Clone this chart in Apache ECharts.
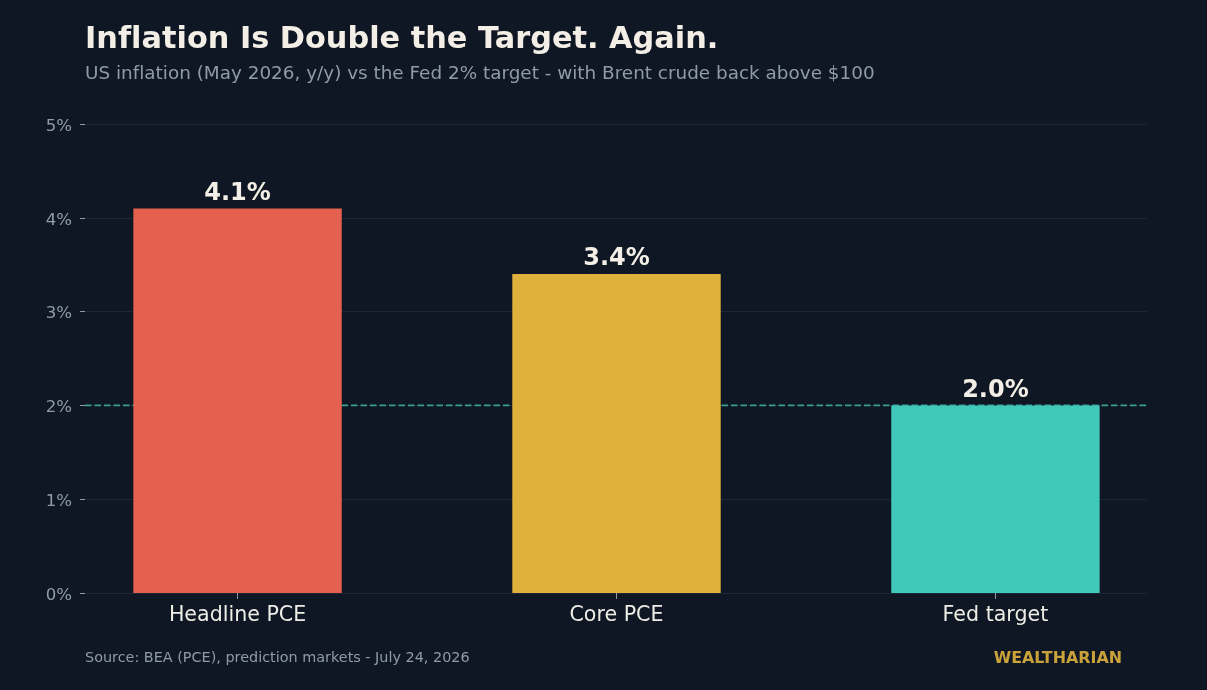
<!DOCTYPE html>
<html><head><meta charset="utf-8">
<script src="https://cdn.jsdelivr.net/npm/echarts@6/dist/echarts.min.js"></script>
<style>html,body{margin:0;padding:0;background:#0F1724;}#c{width:1207px;height:690px;}</style>
</head><body><div id="c"></div>
<script>
const categories = ['Headline PCE', 'Core PCE', 'Fed target'];
const values = [4.1, 3.4, 2.0];
const barColors = ['#E5604F', '#DFB13C', '#40C8B8'];
const yTicks = [0, 1, 2, 3, 4, 5];
const targetRate = 2.0;

// draw text without ligatures (matplotlib-like rendering)
(function () {
  const P = CanvasRenderingContext2D.prototype;
  const orig = P.fillText;
  P.fillText = function () {
    try { this.textRendering = 'optimizeSpeed'; } catch (e) {}
    return orig.apply(this, arguments);
  };
})();

const font = 'DejaVu Sans';
const chart = echarts.init(document.getElementById('c'), null, {renderer: 'canvas'});
chart.setOption({
  backgroundColor: '#0F1724',
  animation: false,
  title: [
    {text: 'Inflation Is Double the Target. Again.', left: 80, top: 20,
     textStyle: {color: '#F3EFE6', fontFamily: font, fontWeight: 'bold', fontSize: 30.35}},
    {text: 'US inflation (May 2026, y/y) vs the Fed 2% target - with Brent crude back above $100', left: 80, top: 60,
     textStyle: {color: '#8F9BAA', fontFamily: font, fontWeight: 'normal', fontSize: 18.4}},
    {text: 'Source: BEA (PCE), prediction markets - July 24, 2026', left: 80, top: 646,
     textStyle: {color: '#8F9BAA', fontFamily: font, fontWeight: 'normal', fontSize: 14.4}},
    {text: 'WEALTHARIAN', right: 80, top: 645.5,
     textStyle: {color: '#C9A23A', fontFamily: font, fontWeight: 'bold', fontSize: 15.9}}
  ],
  grid: [
    {left: 85, right: 60, top: 124, bottom: 97, containLabel: false},
    {left: 48.1, right: 22.1, top: 124, bottom: 97, containLabel: false}
  ],
  xAxis: [
    {gridIndex: 0, type: 'value', min: 0, max: 1, show: false},
    {gridIndex: 1, type: 'category', data: categories,
     axisLine: {show: false},
     splitLine: {show: false},
     axisTick: {show: true, alignWithLabel: true, length: 6, lineStyle: {color: '#8F9BAA'}},
     axisLabel: {margin: 12, color: '#EDEDE6', fontFamily: font, fontSize: 20.6}}
  ],
  yAxis: [
    {gridIndex: 0, type: 'value', min: 0, max: 5, interval: 1,
     axisLine: {show: false},
     axisTick: {show: true, length: 5, lineStyle: {color: '#8F9BAA'}},
     axisLabel: {formatter: v => '{t|' + v + '%}', margin: 13,
       rich: {t: {color: '#8F9BAA', fontFamily: font, fontSize: 16.6, padding: [5, 0, 0, 0]}}},
     splitLine: {show: true, lineStyle: {color: '#1C2636', width: 1.2}}},
    {gridIndex: 1, type: 'value', min: 0, max: 5, interval: 1, show: false,
     splitLine: {show: false}}
  ],
  series: [
    {
      type: 'line', xAxisIndex: 0, yAxisIndex: 0, z: 1, silent: true, symbol: 'none',
      data: [[0, targetRate], [1, targetRate]],
      lineStyle: {color: '#3A9E94', type: [6.5, 3], width: 1.8}
    },
    {
      type: 'bar', xAxisIndex: 1, yAxisIndex: 1, z: 3, barWidth: '55%',
      data: values.map((v, i) => ({value: v, itemStyle: {color: barColors[i]}})),
      label: {show: true, position: 'top', distance: 3,
        formatter: p => p.value.toFixed(1) + '%',
        color: '#F3EFE6', fontFamily: font, fontWeight: 'bold', fontSize: 24}
    }
  ]
});
</script></body></html>
